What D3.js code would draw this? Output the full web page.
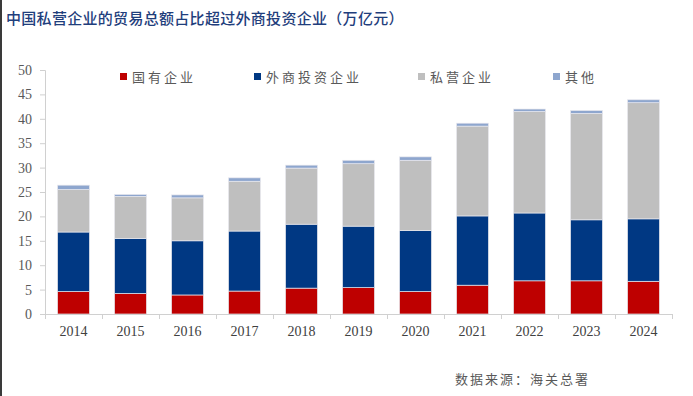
<!DOCTYPE html>
<html>
<head>
<meta charset="utf-8">
<script src="https://cdn.jsdelivr.net/npm/d3@7"></script>
<style>
  body { margin: 0; background: #fff; }
  svg { display: block; }
</style>
</head>
<body>
<div id="chart"></div>
<script>
// data (万亿元)
var years = ["2014", "2015", "2016", "2017", "2018", "2019", "2020", "2021", "2022", "2023", "2024"];
var stateOwned = [4.6, 4.2, 3.9, 4.7, 5.3, 5.4, 4.6, 5.9, 6.8, 6.8, 6.7];
var foreignInvested = [12.2, 11.3, 11.1, 12.3, 13.1, 12.6, 12.5, 14.2, 13.9, 12.5, 12.8];
var privateEnt = [8.7, 8.6, 8.8, 10.2, 11.5, 12.8, 14.4, 18.4, 20.8, 21.8, 23.8];
var others = [0.9, 0.4, 0.6, 0.7, 0.6, 0.7, 0.7, 0.6, 0.5, 0.6, 0.6];
var seriesNames = ["国有企业", "外商投资企业", "私营企业", "其他"];
var yTicks = [0, 5, 10, 15, 20, 25, 30, 35, 40, 45, 50];

var colors = ["#BE0000", "#003883", "#BFBFBF", "#8EA6CE"];

var svgWidth = 693;
var svgHeight = 396;
var margin = { top: 70, right: 21, bottom: 82, left: 45 };
var width = svgWidth - margin.left - margin.right;
var height = svgHeight - margin.top - margin.bottom;

var svg = d3.select("#chart")
  .append("svg")
  .attr("width", svgWidth)
  .attr("height", svgHeight);

// left frame edge
svg.append("rect")
  .attr("x", 0).attr("y", 0)
  .attr("width", 2).attr("height", svgHeight)
  .attr("fill", "#3a3a3a");

// title
svg.append("text")
  .attr("x", 6)
  .attr("y", 24)
  .attr("fill", "#1F3E7C")
  .style("font-family", "'Noto Sans CJK SC'")
  .style("font-size", "15px")
  .style("font-weight", "500")
  .style("letter-spacing", "0.3px")
  .text("中国私营企业的贸易总额占比超过外商投资企业（万亿元）");

var chartGroup = svg.append("g")
  .attr("transform", `translate(${margin.left}, ${margin.top})`);

var table = years.map(function(y, i) {
  return { year: y, s0: stateOwned[i], s1: foreignInvested[i], s2: privateEnt[i], s3: others[i] };
});

var stack = d3.stack().keys(["s0", "s1", "s2", "s3"]);
var layers = stack(table);

var x = d3.scaleBand()
  .domain(years)
  .range([0, width])
  .paddingInner(0.44)
  .paddingOuter(0.22);

var y = d3.scaleLinear()
  .domain([0, 50])
  .range([height, 0]);

// bars
chartGroup.selectAll("g.layer")
  .data(layers)
  .enter()
  .append("g")
  .attr("class", "layer")
  .attr("fill", (d, i) => colors[i])
  .selectAll("rect")
  .data(d => d)
  .enter()
  .append("rect")
  .attr("x", d => x(d.data.year))
  .attr("y", d => y(d[1]))
  .attr("width", x.bandwidth())
  .attr("height", d => y(d[0]) - y(d[1]))
  .attr("stroke", "#E8E8EE")
  .attr("stroke-width", 0.7);

// axes
var leftAxis = d3.axisLeft(y).tickValues(yTicks).tickSize(5).tickPadding(8);
var yAxisG = chartGroup.append("g").call(leftAxis);
yAxisG.select(".domain").attr("stroke", "#D0D0D0").attr("d", `M-5,0.5H0.5V${height}`);
yAxisG.selectAll(".tick line").attr("stroke", "#D0D0D0");
yAxisG.selectAll(".tick text")
  .attr("fill", "#595959")
  .style("font-family", "'Liberation Serif'")
  .style("font-size", "14px");

var xAxisG = chartGroup.append("g")
  .attr("transform", `translate(0, ${height})`)
  .call(d3.axisBottom(x).tickSize(0).tickPadding(12));
xAxisG.select(".domain").attr("stroke", "#D0D0D0").attr("d", `M0,0.5H${width}`);
xAxisG.selectAll(".tick text")
  .attr("fill", "#404040")
  .style("font-family", "'Liberation Serif'")
  .style("font-size", "14px");

// category boundary ticks on x axis
var bounds = d3.range(years.length + 1).map(i => i * width / years.length);
chartGroup.append("g")
  .selectAll("line")
  .data(bounds)
  .enter()
  .append("line")
  .attr("x1", d => d + 0.5).attr("x2", d => d + 0.5)
  .attr("y1", height).attr("y2", height + 5)
  .attr("stroke", "#D0D0D0");

// legend
var legendX = [120, 254, 418, 553];
var legend = svg.append("g")
  .selectAll("g")
  .data(seriesNames)
  .enter()
  .append("g")
  .attr("transform", (d, i) => `translate(${legendX[i]}, 77)`);

legend.append("rect")
  .attr("x", 0).attr("y", -4)
  .attr("width", 7).attr("height", 7)
  .attr("fill", (d, i) => colors[i]);

legend.append("text")
  .attr("x", 12)
  .attr("y", 5)
  .attr("fill", "#595959")
  .style("font-family", "'Noto Sans CJK SC'")
  .style("font-size", "13px")
  .style("letter-spacing", "3px")
  .text(d => d);

// source note
svg.append("text")
  .attr("x", 455)
  .attr("y", 384)
  .attr("fill", "#595959")
  .style("font-family", "'Noto Sans CJK SC'")
  .style("font-size", "13px")
  .style("letter-spacing", "2px")
  .text("数据来源：海关总署");
</script>
</body>
</html>
